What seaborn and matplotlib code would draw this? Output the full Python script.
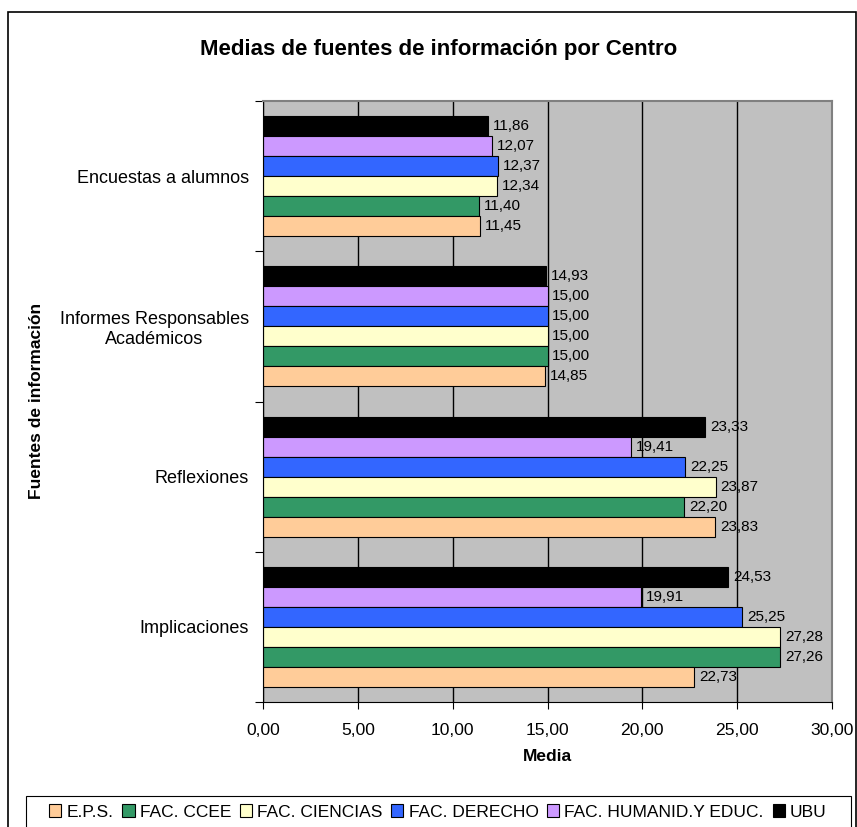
import numpy as np
import pandas as pd
import seaborn as sns
import matplotlib
matplotlib.use("Agg")
import matplotlib.pyplot as plt
from matplotlib.patches import Patch, Rectangle
from matplotlib.ticker import FuncFormatter

# data
fuentes = ["Encuestas a alumnos", "Informes Responsables\nAcadémicos", "Reflexiones", "Implicaciones"]
centros = ["E.P.S.", "FAC. CCEE", "FAC. CIENCIAS", "FAC. DERECHO", "FAC. HUMANID.Y EDUC.", "UBU"]
eps = [11.45, 14.85, 23.83, 22.73]
ccee = [11.40, 15.00, 22.20, 27.26]
ciencias = [12.34, 15.00, 23.87, 27.28]
derecho = [12.37, 15.00, 22.25, 25.25]
humanid = [12.07, 15.00, 19.41, 19.91]
ubu = [11.86, 14.93, 23.33, 24.53]
colores = ["#FFCC99", "#339966", "#FFFFCC", "#3366FF", "#CC99FF", "#000000"]

series = [eps, ccee, ciencias, derecho, humanid, ubu]
df = pd.DataFrame(
    [(f, c, v) for c, vals in zip(centros, series) for f, v in zip(fuentes, vals)],
    columns=["fuente", "centro", "media"],
)
palette = dict(zip(centros, colores))

sns.set_style("white", rc={"axes.facecolor": "#C0C0C0", "text.color": "black",
                           "axes.labelcolor": "black", "xtick.color": "black",
                           "ytick.color": "black"})
plt.rcParams["font.family"] = ["Liberation Sans", "DejaVu Sans"]

fig = plt.figure(figsize=(8.57, 8.27), dpi=100)
ax = fig.add_axes([263 / 857, 1 - 702 / 827, (832 - 263) / 857, (702 - 101) / 827])

sns.barplot(data=df, y="fuente", x="media", hue="centro", order=fuentes,
            hue_order=centros[::-1], palette=palette, orient="h", width=0.8,
            edgecolor="black", linewidth=0.8, saturation=1, errorbar=None,
            legend=False, ax=ax)

fmt = lambda v: f"{v:.2f}".replace(".", ",")
for cont in ax.containers:
    ax.bar_label(cont, labels=[fmt(v) for v in cont.datavalues], padding=3.5,
                 fontsize=11, color="black")

ax.set_xlim(0, 30)
ax.set_xticks(np.arange(0, 31, 5))
ax.xaxis.set_major_formatter(FuncFormatter(lambda v, p: fmt(v)))
ax.tick_params(axis="x", length=5, width=0.8, pad=10, labelsize=12.6, bottom=True)
ax.xaxis.grid(True, color="black", lw=1)
ax.set_axisbelow(True)

ax.set_yticks(np.arange(-0.5, 4, 1), labels=[])
ax.set_yticks(range(len(fuentes)), labels=fuentes, minor=True)
ax.set_ylim(3.5, -0.5)
ax.tick_params(axis="y", which="major", length=6, width=0.8, left=True)
ax.tick_params(axis="y", which="minor", length=0, pad=10, labelsize=13)
for lbl in ax.get_yticklabels(minor=True):
    lbl.set_multialignment("center")

ax.set_xlabel("Media", fontsize=12.5, fontweight="bold", labelpad=8)
ax.set_ylabel("")
for s in ["left", "bottom"]:
    ax.spines[s].set_color("black")
    ax.spines[s].set_linewidth(0.8)
for s in ["top", "right"]:
    ax.spines[s].set_color("#808080")
    ax.spines[s].set_linewidth(1.5)

fig.text(37 / 857, 1 - 401 / 827, "Fuentes de información", rotation=90,
         ha="center", va="center", fontsize=12.5, fontweight="bold")
fig.text(0.512, 1 - 50 / 827, "Medias de fuentes de información por Centro",
         ha="center", va="center", fontsize=16, fontweight="bold")

# outer chart frame and legend box
fig.add_artist(Rectangle((8 / 857, -0.1), 847.5 / 857, 0.1 + 1 - 12 / 827,
                         transform=fig.transFigure, fill=False, ec="black", lw=1.2))
fig.add_artist(Rectangle((26 / 857, -0.1), 825 / 857, 0.1 + 1 - 796 / 827,
                         transform=fig.transFigure, fill=False, ec="black", lw=0.8))

handles = [Patch(facecolor=c, edgecolor="black", lw=0.8) for c in colores]
fig.legend(handles, centros, ncol=6, loc="center", bbox_to_anchor=(438 / 857, 1 - 812 / 827),
           frameon=False, handlelength=0.7, handleheight=0.7, handletextpad=0.3,
           columnspacing=0.5, fontsize=12.5, borderaxespad=0)

fig.savefig("out.png", dpi=100)
